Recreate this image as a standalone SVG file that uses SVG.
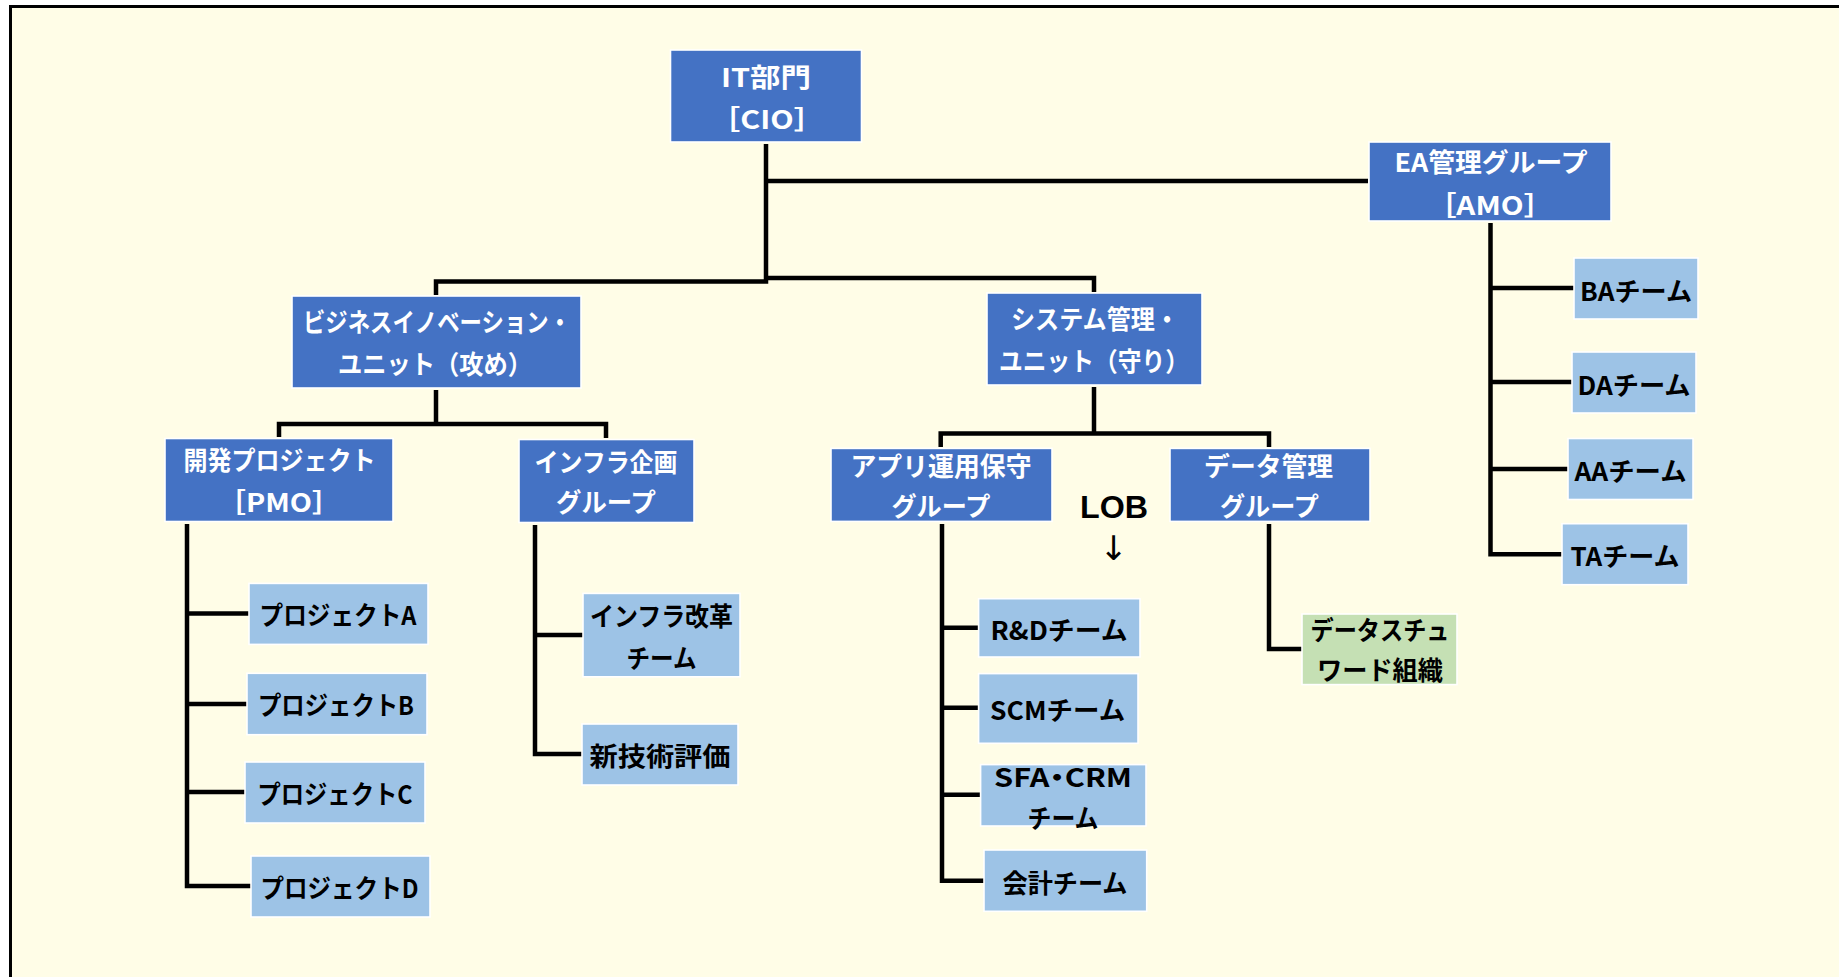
<svg xmlns="http://www.w3.org/2000/svg" width="1839" height="977" viewBox="0 0 1839 977">
<style>
.dark{fill:#4472C4;stroke:#ffffff;stroke-width:1.6}
.light{fill:#9DC3E6;stroke:#ffffff;stroke-width:1.6}
.green{fill:#C5E0B4;stroke:#ffffff;stroke-width:1.6}
text{font-family:"Noto Sans CJK JP","Noto Sans CJK SC",sans-serif;font-weight:700;font-size:26px;text-anchor:middle;dominant-baseline:central}
.w{fill:#ffffff}
.k{fill:#000000}
.halt{font-feature-settings:"halt"}
.conn path{fill:none;stroke:#000000;stroke-width:4.5;stroke-linejoin:miter;stroke-linecap:butt}
</style>
<rect x="0" y="0" width="1839" height="977" fill="#ffffff"/>
<rect x="10.5" y="6.5" width="1900" height="1000" fill="#FFFDE7" stroke="#000000" stroke-width="3"/>
<g id="connectors" class="conn">
<path d="M766,144 V281.5 H436 V295"/>
<path d="M766,278 H1094 V292"/>
<path d="M766,181 H1368"/>
<path d="M436,390 V424"/>
<path d="M279,437 V424 H606 V438"/>
<path d="M1094,387 V433.5"/>
<path d="M940.7,447 V433.5 H1269 V447"/>
<path d="M187,524 V886 H251"/>
<path d="M187,613.6 H249"/>
<path d="M187,704 H247"/>
<path d="M187,792 H245"/>
<path d="M535,525 V754 H582"/>
<path d="M535,635 H583"/>
<path d="M1490.5,223 V554.3 H1562"/>
<path d="M1490.5,288 H1574"/>
<path d="M1490.5,382 H1572"/>
<path d="M1490.5,469 H1568"/>
<path d="M942,524 V880.7 H984"/>
<path d="M942,627.8 H978.6"/>
<path d="M942,707.7 H978.6"/>
<path d="M942,794.8 H980.6"/>
<path d="M1269,524 V649 H1302"/>
</g>
<g id="it">
<rect class="dark" x="670.5" y="50" width="191" height="92"/>
<text class="w" x="766" y="75" textLength="90" lengthAdjust="spacingAndGlyphs">IT部門</text>
<text class="w halt" x="767" y="117" textLength="84" lengthAdjust="spacingAndGlyphs">［CIO］</text>
</g>
<g id="ea">
<rect class="dark" x="1369" y="142" width="242" height="79"/>
<text class="w" x="1491" y="160" textLength="193" lengthAdjust="spacingAndGlyphs">EA管理グループ</text>
<text class="w halt" x="1490" y="203" textLength="97" lengthAdjust="spacingAndGlyphs">［AMO］</text>
</g>
<g id="biz">
<rect class="dark" x="292" y="296" width="289" height="92"/>
<text class="w" x="437" y="320.5" textLength="268" lengthAdjust="spacingAndGlyphs">ビジネスイノベーション・</text>
<text class="w" x="435" y="362.5" textLength="194" lengthAdjust="spacingAndGlyphs">ユニット（攻め）</text>
</g>
<g id="sys">
<rect class="dark" x="987" y="293" width="215" height="92"/>
<text class="w" x="1095" y="317.5" textLength="168" lengthAdjust="spacingAndGlyphs">システム管理・</text>
<text class="w" x="1094" y="359.5" textLength="190" lengthAdjust="spacingAndGlyphs">ユニット（守り）</text>
</g>
<g id="pmo">
<rect class="dark" x="165" y="438.5" width="228" height="83"/>
<text class="w" x="279.5" y="458" textLength="192" lengthAdjust="spacingAndGlyphs">開発プロジェクト</text>
<text class="w halt" x="279" y="500.5" textLength="95" lengthAdjust="spacingAndGlyphs">［PMO］</text>
</g>
<g id="infra">
<rect class="dark" x="519" y="439.5" width="175" height="83"/>
<text class="w" x="606" y="460" textLength="143" lengthAdjust="spacingAndGlyphs">インフラ企画</text>
<text class="w" x="606" y="500" textLength="100" lengthAdjust="spacingAndGlyphs">グループ</text>
</g>
<g id="app">
<rect class="dark" x="831" y="448.4" width="221" height="73"/>
<text class="w" x="941" y="464.5" textLength="181" lengthAdjust="spacingAndGlyphs">アプリ運用保守</text>
<text class="w" x="941" y="504" textLength="99" lengthAdjust="spacingAndGlyphs">グループ</text>
</g>
<g id="data">
<rect class="dark" x="1170" y="448.4" width="200" height="73"/>
<text class="w" x="1268.6" y="464.5" textLength="129" lengthAdjust="spacingAndGlyphs">データ管理</text>
<text class="w" x="1269.5" y="504" textLength="99" lengthAdjust="spacingAndGlyphs">グループ</text>
</g>
<g id="lob">
<text class="k" x="1114" y="507" textLength="68" lengthAdjust="spacingAndGlyphs" style="font-family:'Liberation Sans',Arial,sans-serif;font-size:31px">LOB</text>
<text class="k" x="1113.6" y="548" style="font-family:'DejaVu Sans',sans-serif;font-size:34px;font-weight:400">↓</text>
</g>
<g id="projA">
<rect class="light" x="249" y="583.4" width="179" height="61"/>
<text class="k" x="338" y="613" textLength="157" lengthAdjust="spacingAndGlyphs">プロジェクトA</text>
</g>
<g id="projB">
<rect class="light" x="247" y="673.3" width="180" height="61.4"/>
<text class="k" x="336" y="703.5" textLength="156" lengthAdjust="spacingAndGlyphs">プロジェクトB</text>
</g>
<g id="projC">
<rect class="light" x="245" y="762" width="180" height="61"/>
<text class="k" x="335" y="792" textLength="155" lengthAdjust="spacingAndGlyphs">プロジェクトC</text>
</g>
<g id="projD">
<rect class="light" x="251" y="856" width="179" height="61"/>
<text class="k" x="339.5" y="886" textLength="158" lengthAdjust="spacingAndGlyphs">プロジェクトD</text>
</g>
<g id="kaikaku">
<rect class="light" x="583" y="593.4" width="157" height="83.4"/>
<text class="k" x="661.5" y="614.7" textLength="143" lengthAdjust="spacingAndGlyphs">インフラ改革</text>
<text class="k" x="661.5" y="656" textLength="70" lengthAdjust="spacingAndGlyphs">チーム</text>
</g>
<g id="shingi">
<rect class="light" x="582" y="724" width="156" height="61"/>
<text class="k" x="660" y="754" textLength="141" lengthAdjust="spacingAndGlyphs">新技術評価</text>
</g>
<g id="ba">
<rect class="light" x="1574" y="258" width="124" height="61"/>
<text class="k" x="1636" y="289" textLength="112" lengthAdjust="spacingAndGlyphs">BAチーム</text>
</g>
<g id="da">
<rect class="light" x="1572" y="352" width="124" height="61"/>
<text class="k" x="1634" y="383" textLength="113" lengthAdjust="spacingAndGlyphs">DAチーム</text>
</g>
<g id="aa">
<rect class="light" x="1568" y="438.5" width="125" height="61"/>
<text class="k" x="1630.5" y="469" textLength="112" lengthAdjust="spacingAndGlyphs">AAチーム</text>
</g>
<g id="ta">
<rect class="light" x="1562" y="523.7" width="126" height="61"/>
<text class="k" x="1625" y="554" textLength="109" lengthAdjust="spacingAndGlyphs">TAチーム</text>
</g>
<g id="rd">
<rect class="light" x="978.6" y="598.7" width="161.4" height="58.3"/>
<text class="k" x="1059" y="628" textLength="137" lengthAdjust="spacingAndGlyphs">R&amp;Dチーム</text>
</g>
<g id="scm">
<rect class="light" x="978.6" y="673.6" width="159.4" height="69.7"/>
<text class="k" x="1057.6" y="708" textLength="135" lengthAdjust="spacingAndGlyphs">SCMチーム</text>
</g>
<g id="sfa">
<rect class="light" x="980.6" y="764.6" width="165.4" height="61.4"/>
<text class="k halt" x="1063" y="775" textLength="138" lengthAdjust="spacingAndGlyphs">SFA・CRM</text>
<text class="k" x="1063" y="816.7" textLength="71" lengthAdjust="spacingAndGlyphs">チーム</text>
</g>
<g id="kaikei">
<rect class="light" x="984" y="850" width="162.7" height="61.3"/>
<text class="k" x="1065" y="881" textLength="125" lengthAdjust="spacingAndGlyphs">会計チーム</text>
</g>
<g id="steward">
<rect class="green" x="1302" y="614" width="155" height="70.6"/>
<text class="k" x="1380" y="628.5" textLength="139" lengthAdjust="spacingAndGlyphs">データスチュ</text>
<text class="k" x="1380" y="668.6" textLength="126" lengthAdjust="spacingAndGlyphs">ワード組織</text>
</g>
</svg>
